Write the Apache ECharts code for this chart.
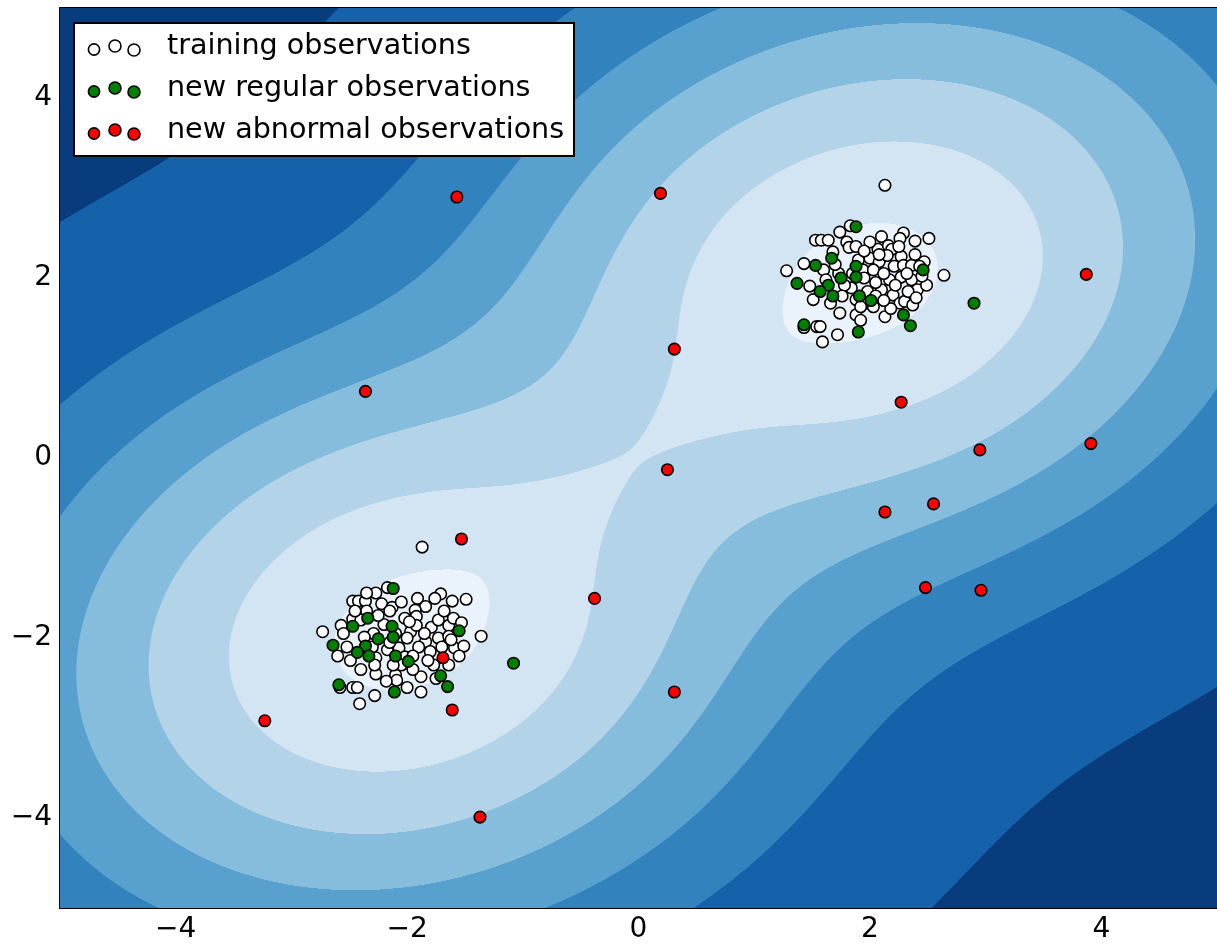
<!DOCTYPE html>
<html>
<head>
<meta charset="utf-8">
<script src="https://cdn.jsdelivr.net/npm/echarts@6/dist/echarts.min.js"></script>
<style>
  html, body { margin: 0; padding: 0; background: #fff; }
  #chart { width: 1217px; height: 947px; }
</style>
</head>
<body>
<div id="chart"></div>
<script>
// ---------------- DATA ----------------
const seriesNames = ['training observations', 'new regular observations', 'new abnormal observations'];
const tickValues = [-4, -2, 0, 2, 4];

const trainingObs = [
  // upper cluster
  [2.13,3.03],[1.83,2.58],[1.74,2.51],[1.53,2.42],[1.58,2.42],[1.64,2.42],[2.10,2.46],[2.29,2.50],[2.26,2.44],[2.39,2.41],
  [2.51,2.44],[1.80,2.40],[1.82,2.34],[1.88,2.35],[1.68,2.29],[2.07,2.32],[2.16,2.36],[2.19,2.32],[2.00,2.22],[2.08,2.18],
  [2.27,2.24],[2.39,2.26],[2.47,2.18],[1.43,2.16],[1.28,2.08],[1.60,2.09],[1.73,2.05],[1.94,2.09],[2.03,2.09],[2.21,2.13],
  [2.29,2.14],[2.36,2.14],[2.43,2.13],[2.64,2.03],[1.48,1.91],[1.83,1.96],[1.84,1.89],[2.17,1.98],[2.10,1.87],[2.27,2.01],
  [2.36,1.98],[2.41,1.87],[2.49,1.92],[1.51,1.76],[1.88,1.76],[1.97,1.72],[2.03,1.68],[2.20,1.81],[2.26,1.72],[2.30,1.74],
  [2.37,1.70],[1.74,1.61],[1.88,1.59],[1.92,1.53],[2.13,1.57],[1.54,1.46],[1.57,1.46],[1.43,1.45],[1.72,1.37],[1.59,1.29],
  [1.95,2.00],[2.05,1.95],[1.90,2.20],[2.12,2.05],[2.22,1.92],[1.98,1.85],[1.78,1.92],[2.32,2.05],[2.15,2.25],[1.70,2.15],
  [2.00,2.40],[2.05,1.80],[2.25,2.35],[1.62,1.98],[1.92,1.68],[2.45,2.02],[2.18,1.66],[1.85,2.05],[2.08,2.26],[1.76,1.80],
  [2.33,1.85],[1.66,1.72],[2.12,1.75],[1.95,2.30],[2.40,1.78],
  // lower cluster
  [-1.87,-0.99],[-2.17,-1.44],[-2.27,-1.50],[-2.47,-1.59],[-2.42,-1.59],[-2.36,-1.59],[-2.22,-1.62],[-2.13,-1.66],[-1.91,-1.56],[-1.84,-1.65],
  [-1.71,-1.51],[-1.76,-1.56],[-1.61,-1.59],[-1.49,-1.57],[-1.93,-1.69],[-2.35,-1.70],[-2.47,-1.79],[-2.40,-1.80],[-2.57,-1.86],[-2.73,-1.93],
  [-2.29,-1.95],[-2.37,-1.99],[-2.02,-1.78],[-1.92,-1.76],[-1.97,-1.93],[-1.92,-1.86],[-1.79,-1.88],[-1.73,-1.80],[-1.64,-1.86],[-1.60,-1.78],
  [-1.53,-1.83],[-1.36,-1.98],[-2.52,-2.10],[-2.49,-2.25],[-2.27,-2.22],[-2.17,-2.13],[-2.07,-2.11],[-2.02,-2.21],[-1.84,-2.04],[-1.73,-2.00],
  [-1.64,-1.98],[-1.59,-2.11],[-1.51,-2.09],[-1.77,-2.30],[-1.64,-2.30],[-2.27,-2.40],[-2.10,-2.41],[-2.09,-2.47],[-1.88,-2.43],[-2.47,-2.55],
  [-2.43,-2.55],[-2.58,-2.55],[-2.28,-2.64],[-2.41,-2.73],
  [-2.00,-2.00],[-2.10,-1.95],[-1.90,-2.10],[-2.20,-1.85],[-2.05,-2.30],[-1.80,-2.15],[-2.30,-2.10],[-1.95,-2.35],[-2.15,-2.05],[-1.70,-2.10],
  [-2.40,-2.35],[-1.85,-1.95],[-2.25,-1.75],[-2.05,-1.60],[-1.75,-2.45],[-2.60,-2.20],[-2.00,-2.55],[-1.55,-2.20],[-2.35,-1.50],[-1.95,-2.20],
  [-2.12,-2.30],[-1.68,-1.70],[-2.55,-1.95],[-2.18,-2.48],[-1.82,-2.25],[-1.98,-1.82],[-2.28,-2.30],[-1.62,-2.02],[-2.45,-1.70],[-1.88,-2.60],
  [-2.15,-1.70]
];

const regularObs = [
  [1.88,2.57],[1.67,2.22],[1.53,2.14],[1.88,2.13],[1.88,2.01],[1.75,2.00],[2.46,2.09],[1.37,1.94],[1.64,1.92],[1.57,1.85],
  [1.68,1.80],[1.91,1.80],[2.01,1.75],[2.29,1.59],[2.35,1.47],[1.43,1.48],[1.90,1.40],[2.90,1.72],
  [-2.12,-1.45],[-2.34,-1.78],[-2.47,-1.87],[-2.13,-1.87],[-2.12,-1.99],[-2.25,-2.01],[-1.55,-1.92],[-2.64,-2.08],[-2.36,-2.09],[-2.43,-2.16],
  [-2.33,-2.20],[-2.10,-2.20],[-1.99,-2.26],[-1.71,-2.42],[-1.65,-2.54],[-2.59,-2.52],[-2.11,-2.60],[-1.08,-2.28]
];

const abnormalObs = [
  [-1.57,2.90],[0.19,2.94],[0.31,1.21],[-2.36,0.74],[3.87,2.04],[2.27,0.62],[2.95,0.09],[3.91,0.16],[0.25,-0.13],[2.13,-0.60],
  [2.55,-0.51],[-1.53,-0.90],[-0.38,-1.56],[2.48,-1.44],[2.96,-1.47],[-1.69,-2.22],[0.31,-2.60],[-3.23,-2.92],[-1.61,-2.80],[-1.37,-3.99]
];

// contour levels of the decision field (low -> high) and their fill colours (Blues_r)
const contourLevels = [0.0075, 0.078, 0.184, 0.325, 0.507, 0.73, 0.961];
const contourColors = ['#083c7d', '#1562aa', '#3282be', '#58a0ce', '#86bcdc', '#b3d3e8', '#d3e4f3', '#eaf2fb'];

// smoothing parameters of the field model (variances added to each cluster's own spread)
const SMOOTH = { outward: 3.9, inward: 3.5, across: 2.9 };
const BRIDGE = { height: 0.09, alongVar: 2.0, acrossVar: 0.12 };   // link between the two cluster modes

// ---------------- FIELD (smoothed two-mode model of the training observations) ----------------
const X_MIN = -5, X_MAX = 5, Y_MIN = -5, Y_MAX = 5;
const NCOLS = 1001, NROWS = 900;
const xs = [];
for (let j = 0; j < NCOLS; j++) xs.push(X_MIN + (X_MAX - X_MIN) * j / (NCOLS - 1));
const dy = (Y_MAX - Y_MIN) / NROWS;

const groups = [trainingObs.filter(p => p[0] + p[1] > 0), trainingObs.filter(p => p[0] + p[1] <= 0)];
const halfN = trainingObs.length / 2;
const modes = groups.map(pts => {
  const n = pts.length;
  const mx = pts.reduce((s, p) => s + p[0], 0) / n;
  const my = pts.reduce((s, p) => s + p[1], 0) / n;
  const spread = pts.reduce((s, p) => s + (p[0] - mx) ** 2 + (p[1] - my) ** 2, 0) / (2 * n);
  return { mx, my, spread, w: n / halfN };
});
const bcx = (modes[0].mx + modes[1].mx) / 2, bcy = (modes[0].my + modes[1].my) / 2;
modes.forEach(m => {
  const L = Math.hypot(m.mx - bcx, m.my - bcy);
  m.ex = (m.mx - bcx) / L; m.ey = (m.my - bcy) / L;           // outward direction
  m.vOut = SMOOTH.outward + m.spread; m.vIn = SMOOTH.inward + m.spread; m.vAc = SMOOTH.across + m.spread;
});
const bux = modes[0].ex, buy = modes[0].ey;

function field(x, y) {
  let s = 0;
  for (const m of modes) {
    const dx = x - m.mx, dyv = y - m.my;
    const u = dx * m.ex + dyv * m.ey, v = -dx * m.ey + dyv * m.ex;
    const vu = u > 0 ? m.vOut : m.vIn;
    s += m.w * Math.exp(-0.5 * (u * u / vu + v * v / m.vAc));
  }
  const px = x - bcx, py = y - bcy;
  const u = px * bux + py * buy, v = -px * buy + py * bux;
  s += BRIDGE.height * Math.exp(-0.5 * (u * u / BRIDGE.alongVar + v * v / BRIDGE.acrossVar));
  return s;
}

const rowRuns = [];
const rowData = [];
const F = new Float64Array(NCOLS);
for (let r = 0; r < NROWS; r++) {
  const yc = Y_MAX - (r + 0.5) * dy;
  for (let j = 0; j < NCOLS; j++) F[j] = field(xs[j], yc);
  const runs = [[X_MIN, X_MAX, 0]];
  contourLevels.forEach((T, k) => {
    let inside = F[0] > T;
    let start = inside ? xs[0] : null;
    for (let j = 1; j < NCOLS; j++) {
      const now = F[j] > T;
      if (now !== inside) {
        const xc = xs[j - 1] + (T - F[j - 1]) / (F[j] - F[j - 1]) * (xs[j] - xs[j - 1]);
        if (now) start = xc; else runs.push([start, xc, k + 1]);
        inside = now;
      }
    }
    if (inside) runs.push([start, xs[NCOLS - 1], k + 1]);
  });
  rowRuns.push(runs);
  rowData.push([0, yc, r]);
}

// ---------------- CHART ----------------
const chart = echarts.init(document.getElementById('chart'), null, { renderer: 'canvas' });
const FONT = 'DejaVu Sans';
const fmt = v => (v < 0 ? '\u2212' + Math.abs(v) : String(v));

function axisCommon(pos, showLabel) {
  return {
    type: 'value', min: -5, max: 5, position: pos,
    axisLine: { show: true, onZero: false, lineStyle: { color: '#000', width: 2 } },
    axisTick: { show: true, inside: true, length: 9, customValues: tickValues, lineStyle: { color: '#000', width: 1.5 } },
    axisLabel: { show: showLabel, customValues: tickValues, formatter: fmt, fontSize: 28, fontFamily: FONT, color: '#000', margin: 8 },
    splitLine: { show: false }
  };
}

const scatterCommon = { type: 'scatter', symbol: 'circle', symbolSize: 11.5, xAxisIndex: 0, yAxisIndex: 0, z: 5, silent: true };

const legendRows = [
  { name: seriesNames[0], color: '#ffffff', y: 47 },
  { name: seriesNames[1], color: '#008000', y: 89 },
  { name: seriesNames[2], color: '#ff0000', y: 131 }
];
const legendMarkerDx = [94, 115, 134];
const legendMarkerDy = [2.5, -1, 3];
const legendMarkerR = [5.6, 6.0, 6.0];
const legendChildren = [{
  type: 'rect', z: 100, shape: { x: 74, y: 23, width: 500, height: 133 },
  style: { fill: '#fff', stroke: '#000', lineWidth: 2 }
}];
legendRows.forEach(row => {
  legendMarkerDx.forEach((dx, i) => {
    legendChildren.push({ type: 'circle', z: 101, shape: { cx: dx, cy: row.y + legendMarkerDy[i], r: legendMarkerR[i] },
      style: { fill: row.color, stroke: '#000', lineWidth: 1.6 } });
  });
  legendChildren.push({ type: 'text', z: 101, x: 167, y: row.y,
    style: { text: row.name, fontSize: 28.6, fontFamily: FONT, fill: '#000', verticalAlign: 'middle', align: 'left' } });
});

chart.setOption({
  animation: false,
  backgroundColor: '#fff',
  grid: { left: 60, top: 8, width: 1162, height: 900, containLabel: false },
  xAxis: [axisCommon('bottom', true), axisCommon('top', false)],
  yAxis: [axisCommon('left', true), axisCommon('right', false)],
  series: [
    {
      type: 'custom', name: 'decision field', xAxisIndex: 0, yAxisIndex: 0, silent: true, z: 1,
      data: rowData, encode: { x: 0, y: 1 },
      renderItem: function (params, api) {
        const r = api.value(2);
        const yTop = Y_MAX - r * dy, yBot = Y_MAX - (r + 1) * dy;
        const children = rowRuns[r].map(run => {
          const p0 = api.coord([run[0], yTop]);
          const p1 = api.coord([run[1], yBot]);
          return { type: 'rect', shape: { x: p0[0], y: p0[1], width: p1[0] - p0[0], height: p1[1] - p0[1] },
            style: { fill: contourColors[run[2]] } };
        });
        return { type: 'group', children: children };
      }
    },
    Object.assign({}, scatterCommon, { name: seriesNames[0], data: trainingObs,
      itemStyle: { color: '#ffffff', borderColor: '#000', borderWidth: 1.6, opacity: 1 } }),
    Object.assign({}, scatterCommon, { name: seriesNames[1], data: regularObs,
      itemStyle: { color: '#008000', borderColor: '#000', borderWidth: 1.6, opacity: 1 } }),
    Object.assign({}, scatterCommon, { name: seriesNames[2], data: abnormalObs,
      itemStyle: { color: '#ff0000', borderColor: '#000', borderWidth: 1.6, opacity: 1 } })
  ],
  graphic: [{ type: 'group', children: legendChildren }]
});
</script>
</body>
</html>
